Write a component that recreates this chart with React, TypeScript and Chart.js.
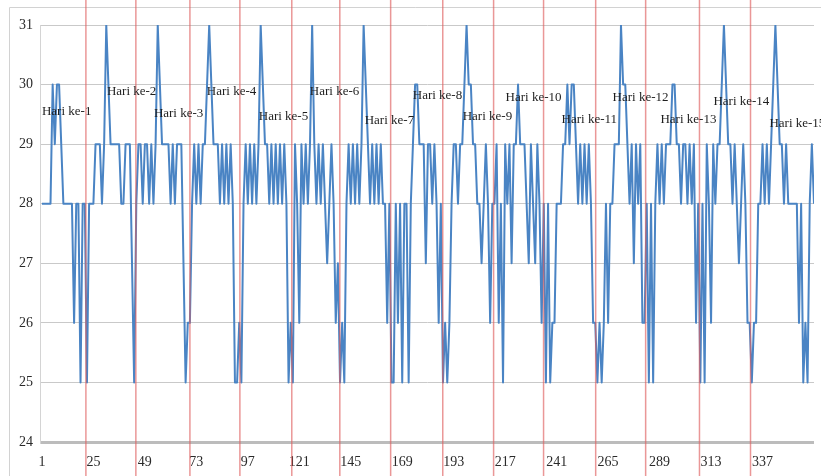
import React, { useEffect, useRef } from 'react';
import { Chart, registerables } from 'chart.js';

Chart.register(...registerables);

// Hourly temperature readings (points 1..361)
const suhu: number[] = [
  28, 28, 28, 28, 28, 30, 29, 30, 30, 29,
  28, 28, 28, 28, 28, 26, 28, 28, 25, 28,
  28, 25, 28, 28, 28, 29, 29, 29, 28, 29,
  31, 30, 29, 29, 29, 29, 29, 28, 28, 29,
  29, 29, 27, 25, 28, 29, 29, 28, 29, 29,
  28, 29, 28, 29, 31, 30, 29, 29, 29, 29,
  28, 29, 28, 29, 29, 29, 27, 25, 26, 26,
  28, 29, 28, 29, 28, 29, 29, 30, 31, 30,
  29, 29, 29, 28, 29, 28, 29, 28, 29, 28,
  25, 25, 26, 25, 28, 29, 28, 29, 28, 29,
  28, 29, 31, 30, 29, 29, 28, 29, 28, 29,
  28, 29, 28, 29, 28, 25, 26, 25, 29, 28,
  26, 29, 28, 29, 28, 29, 31, 29, 28, 29,
  28, 29, 28, 27, 28, 29, 28, 26, 27, 25,
  26, 25, 28, 29, 28, 29, 28, 29, 28, 29,
  31, 30, 29, 28, 29, 28, 29, 28, 29, 28,
  28, 26, 28, 25, 25, 28, 26, 28, 25, 28,
  28, 25, 28, 29, 30, 30, 29, 29, 29, 27,
  29, 29, 28, 29, 28, 26, 28, 25, 26, 25,
  26, 28, 29, 29, 28, 29, 29, 30, 31, 30,
  30, 29, 29, 28, 28, 27, 28, 29, 28, 26,
  28, 28, 29, 26, 28, 25, 29, 28, 29, 27,
  29, 29, 30, 29, 29, 29, 28, 27, 29, 28,
  27, 29, 28, 26, 28, 25, 28, 25, 26, 26,
  28, 28, 28, 29, 29, 30, 29, 30, 30, 29,
  28, 29, 28, 29, 28, 29, 28, 26, 26, 25,
  26, 25, 26, 28, 26, 28, 28, 29, 29, 29,
  31, 30, 30, 29, 28, 29, 27, 29, 28, 29,
  26, 26, 28, 25, 28, 25, 28, 29, 28, 29,
  28, 29, 29, 29, 30, 30, 29, 29, 28, 29,
  29, 28, 29, 28, 29, 26, 28, 25, 28, 25,
  29, 28, 26, 29, 28, 29, 29, 30, 31, 30,
  29, 29, 28, 29, 28, 27, 28, 29, 28, 26,
  26, 25, 26, 26, 28, 28, 29, 28, 29, 28,
  29, 30, 31, 30, 29, 29, 28, 29, 28, 28,
  28, 28, 28, 26, 28, 25, 26, 25, 28, 29,
  28,
];

const xTicks: number[] = [1, 25, 49, 73, 97, 121, 145, 169, 193, 217, 241, 265, 289, 313, 337];
const yMin = 24;
const yMax = 31;

// Red day-boundary markers (in point units)
const batasHari: number[] = [21.5, 44.8, 70.0, 93.3, 117.5, 139.9, 163.6, 187.9, 211.6, 234.9, 259.2, 282.5, 307.6, 331.4];

// Day annotations
const labelHari: string[] = [
  'Hari ke-1', 'Hari ke-2', 'Hari ke-3', 'Hari ke-4', 'Hari ke-5',
  'Hari ke-6', 'Hari ke-7', 'Hari ke-8', 'Hari ke-9', 'Hari ke-10',
  'Hari ke-11', 'Hari ke-12', 'Hari ke-13', 'Hari ke-14', 'Hari ke-15',
];
const labelX: number[] = [1.0, 31.3, 53.2, 77.9, 102.1, 125.9, 151.5, 173.9, 197.2, 217.2, 243.3, 267.1, 289.4, 314.1, 340.2];
const labelY: number[] = [29.54, 29.88, 29.52, 29.88, 29.47, 29.88, 29.39, 29.81, 29.47, 29.79, 29.41, 29.79, 29.41, 29.72, 29.35];

const SERIF = '"Liberation Serif", "Times New Roman", serif';

const overlayPlugin = {
  id: 'overlay',
  beforeDraw(chart: any) {
    const ctx = chart.ctx;
    ctx.save();
    ctx.fillStyle = '#ffffff';
    ctx.fillRect(0, 0, chart.width, chart.height);
    ctx.strokeStyle = '#d2d2d2';
    ctx.lineWidth = 1;
    ctx.beginPath();
    ctx.moveTo(9.5, chart.height);
    ctx.lineTo(9.5, 7.5);
    ctx.lineTo(chart.width, 7.5);
    ctx.stroke();
    ctx.restore();
  },
  afterDraw(chart: any) {
    const ctx = chart.ctx;
    const xs = chart.scales.x;
    const ys = chart.scales.y;
    ctx.save();
    ctx.strokeStyle = 'rgba(222, 96, 96, 0.65)';
    ctx.lineWidth = 1.5;
    batasHari.forEach((v) => {
      const px = xs.getPixelForValue(v);
      ctx.beginPath();
      ctx.moveTo(px, 0);
      ctx.lineTo(px, chart.height);
      ctx.stroke();
    });
    ctx.fillStyle = '#1e1e1e';
    ctx.font = '13px ' + SERIF;
    ctx.textAlign = 'left';
    ctx.textBaseline = 'middle';
    labelHari.forEach((t, i) => {
      ctx.fillText(t, xs.getPixelForValue(labelX[i]), ys.getPixelForValue(labelY[i]));
    });
    ctx.restore();
  },
};

export default function App() {
  const ref = useRef<HTMLCanvasElement | null>(null);

  useEffect(() => {
    if (!ref.current) return;
    const points = suhu.map((v, i) => ({ x: i + 1, y: v }));
    const chart = new Chart(ref.current, {
      type: 'line',
      data: {
        datasets: [
          {
            data: points,
            borderColor: '#4a84c4',
            borderWidth: 2,
            pointRadius: 0,
            tension: 0,
            fill: false,
            borderJoinStyle: 'round',
          },
        ],
      },
      options: {
        animation: false,
        responsive: false,
        devicePixelRatio: 1,
        layout: { padding: { top: 25, right: 7, left: 0, bottom: 0 } },
        plugins: { legend: { display: false }, tooltip: { enabled: false } },
        scales: {
          x: {
            type: 'linear',
            min: 0.1,
            max: suhu.length,
            afterBuildTicks: (s: any) => {
              s.ticks = xTicks.map((v) => ({ value: v }));
            },
            afterFit: (s: any) => {
              s.height = 34;
            },
            grid: { display: false, drawTicks: false },
            border: { display: false },
            ticks: {
              autoSkip: false,
              maxRotation: 0,
              padding: 12,
              color: '#2a2a2a',
              font: { family: SERIF, size: 14 },
              callback: (v: any) => String(v),
            },
          },
          y: {
            min: yMin,
            max: yMax,
            afterFit: (s: any) => {
              s.width = 40;
            },
            ticks: {
              stepSize: 1,
              padding: 7,
              color: '#2a2a2a',
              font: { family: SERIF, size: 14 },
            },
            grid: {
              drawTicks: false,
              color: (c: any) => (c.tick && c.tick.value === yMin ? '#bcbcbc' : '#c9c9c9'),
              lineWidth: (c: any) => (c.tick && c.tick.value === yMin ? 3 : 1),
            },
            border: { display: true, color: '#d4d4d4', width: 1 },
          },
        },
      },
      plugins: [overlayPlugin],
    });
    return () => chart.destroy();
  }, []);

  return (
    <div style={{ position: 'fixed', left: 0, top: 0, width: 821, height: 476, background: '#fff' }}>
      <canvas ref={ref} width={821} height={476} style={{ display: 'block' }} />
    </div>
  );
}
